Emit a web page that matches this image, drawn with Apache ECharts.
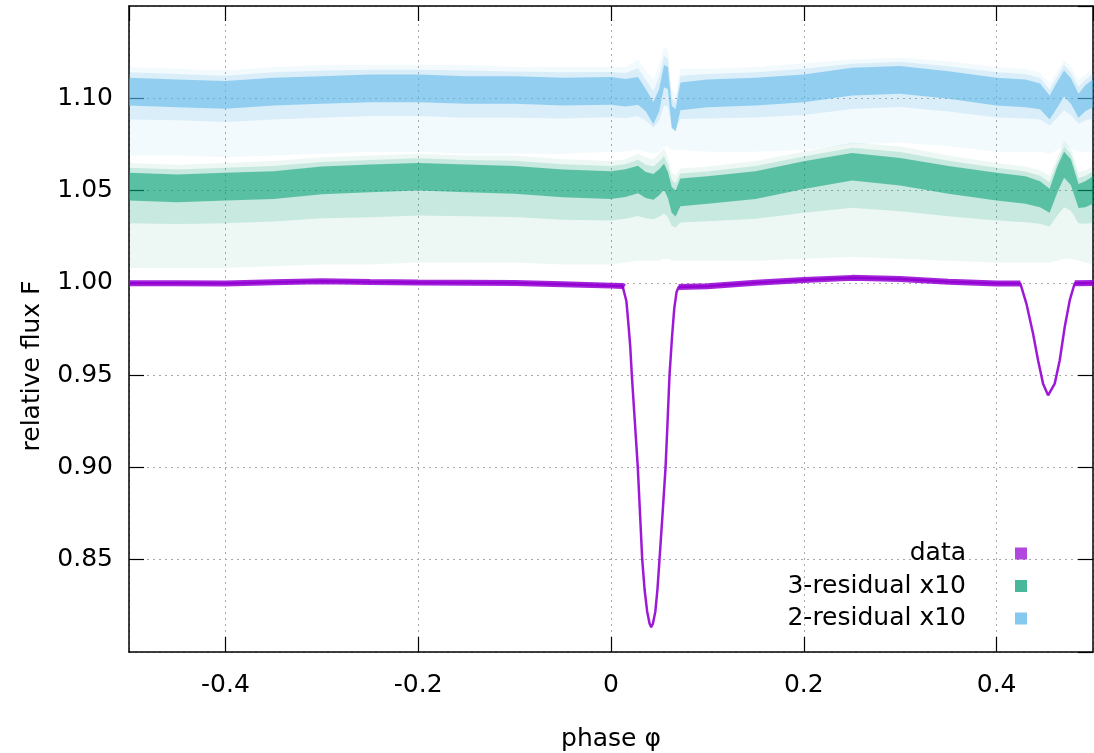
<!DOCTYPE html>
<html>
<head>
<meta charset="utf-8">
<script src="https://cdn.jsdelivr.net/npm/echarts@6.0.0/dist/echarts.min.js"></script>
<style>
  html, body { margin: 0; padding: 0; background: #fff; }
  #main { width: 1094px; height: 753px; }
</style>
</head>
<body>
<div id="main"></div>
<script>
// light curve (data)
const dataPhase = [-0.5, -0.45, -0.4, -0.35, -0.3, -0.25, -0.2, -0.15, -0.1, -0.05, 0, 0.012,
  0.014, 0.016, 0.018, 0.0199, 0.0216, 0.0247, 0.0278, 0.0301, 0.0324, 0.0348, 0.0375, 0.04, 0.0417,
  0.0435, 0.046, 0.0482, 0.0503, 0.0535, 0.0566, 0.0587, 0.0607, 0.0632, 0.0656, 0.068, 0.0702,
  0.1, 0.15, 0.2, 0.25, 0.3, 0.35, 0.4, 0.4247,
  0.4309, 0.4378, 0.443, 0.4482, 0.4534, 0.4603, 0.4655, 0.4707, 0.4759, 0.481, 0.5];
const dataFlux = [0.9998, 0.9998, 0.9997, 1.0003, 1.0009, 1.0004, 1.0002, 1.0001, 0.9999, 0.9992, 0.9985, 0.9983,
  0.9978, 0.990, 0.978, 0.966, 0.950, 0.925, 0.900, 0.875, 0.850, 0.834, 0.822, 0.8155, 0.8134,
  0.8155, 0.822, 0.834, 0.850, 0.875, 0.900, 0.925, 0.950, 0.970, 0.986, 0.995, 0.9978,
  0.9981, 1.0001, 1.0016, 1.0027, 1.0021, 1.0006, 0.9997, 0.9996,
  0.9888, 0.9726, 0.9581, 0.9454, 0.9391, 0.9454, 0.9581, 0.9762, 0.9906, 0.9998, 0.9999];

// residual clouds: phase grid, centre of the dense core, core half width, lowest and highest scattered points
const resPhase = [-0.5, -0.45, -0.4, -0.35, -0.3, -0.25, -0.2, -0.15, -0.1, -0.05, 0, 0.015, 0.028,
  0.036, 0.044, 0.05, 0.055, 0.059, 0.063, 0.067, 0.072, 0.1, 0.15, 0.2, 0.25, 0.3, 0.35, 0.4,
  0.43, 0.445, 0.455, 0.463, 0.47, 0.477, 0.485, 0.492, 0.5];

const res3Mid = [1.0521, 1.0512, 1.0521, 1.0530, 1.0555, 1.0566, 1.0575, 1.0566, 1.0558, 1.0539, 1.0530, 1.0540, 1.0560,
  1.0530, 1.0520, 1.0545, 1.0575, 1.0530, 1.0450, 1.0430, 1.0490, 1.0503, 1.0530, 1.0584, 1.0629, 1.0602, 1.0558, 1.0521,
  1.0503, 1.0480, 1.0445, 1.0560, 1.0640, 1.0600, 1.0470, 1.0480, 1.0503];
const res3Half = [0.0075, 0.0075, 0.0075, 0.0075, 0.0075, 0.0075, 0.0075, 0.0075, 0.0075, 0.0075, 0.0075, 0.0075, 0.0075,
  0.007, 0.007, 0.007, 0.007, 0.007, 0.007, 0.007, 0.0075, 0.0075, 0.0075, 0.0075, 0.0075, 0.0075, 0.0075, 0.0075,
  0.0075, 0.007, 0.0065, 0.007, 0.007, 0.007, 0.0065, 0.007, 0.0075];
const res3Low = [1.008, 1.008, 1.008, 1.009, 1.010, 1.010, 1.011, 1.011, 1.011, 1.010, 1.010, 1.011, 1.012,
  1.012, 1.012, 1.012, 1.013, 1.013, 1.012, 1.012, 1.012, 1.012, 1.012, 1.013, 1.014, 1.013, 1.012, 1.011,
  1.011, 1.011, 1.011, 1.012, 1.013, 1.013, 1.012, 1.011, 1.010];
const res3High = [1.065, 1.064, 1.065, 1.066, 1.068, 1.069, 1.070, 1.069, 1.069, 1.067, 1.066, 1.067, 1.070,
  1.068, 1.067, 1.070, 1.073, 1.068, 1.060, 1.058, 1.062, 1.063, 1.066, 1.071, 1.076, 1.074, 1.069, 1.065,
  1.063, 1.061, 1.058, 1.068, 1.077, 1.073, 1.060, 1.061, 1.063];

const res2Mid = [1.1036, 1.1027, 1.1018, 1.1036, 1.1045, 1.1054, 1.1054, 1.1045, 1.1045, 1.1036, 1.1040, 1.1030, 1.1040,
  1.0990, 1.0920, 1.0990, 1.1120, 1.1110, 1.0900, 1.0880, 1.1010, 1.1027, 1.1036, 1.1054, 1.1090, 1.1100, 1.1072, 1.1036,
  1.1027, 1.1010, 1.0950, 1.1020, 1.1080, 1.1040, 1.0960, 1.1000, 1.1027];
const res2Half = [0.0075, 0.0075, 0.0075, 0.0075, 0.0075, 0.0075, 0.0075, 0.0075, 0.0075, 0.0075, 0.0075, 0.0075, 0.0075,
  0.006, 0.006, 0.006, 0.006, 0.006, 0.006, 0.006, 0.0075, 0.0075, 0.0075, 0.0075, 0.0075, 0.0075, 0.0075, 0.0075,
  0.0075, 0.007, 0.0065, 0.007, 0.007, 0.007, 0.0065, 0.007, 0.0075];
const res2Low = [1.069, 1.069, 1.068, 1.069, 1.070, 1.071, 1.071, 1.070, 1.070, 1.070, 1.071, 1.071, 1.072,
  1.071, 1.070, 1.071, 1.074, 1.074, 1.072, 1.072, 1.072, 1.071, 1.071, 1.072, 1.075, 1.076, 1.074, 1.071,
  1.071, 1.071, 1.070, 1.072, 1.074, 1.073, 1.071, 1.071, 1.071];
const res2High = [1.117, 1.116, 1.115, 1.117, 1.118, 1.118, 1.118, 1.118, 1.117, 1.117, 1.117, 1.117, 1.121,
  1.115, 1.110, 1.118, 1.128, 1.126, 1.105, 1.102, 1.116, 1.116, 1.117, 1.119, 1.121, 1.122, 1.120, 1.117,
  1.116, 1.114, 1.108, 1.115, 1.121, 1.117, 1.110, 1.113, 1.116];

const seriesNames = ['data', '3-residual x10', '2-residual x10'];
const yTicks = [0.85, 0.90, 0.95, 1.00, 1.05, 1.10];

const FONT = 'DejaVu Sans';
const FS = 25;
const PURPLE = '148,0,211', GREEN = '0,158,115', BLUE = '86,180,233';

// one filled polygon between a lower and an upper edge, drawn with the axis scales
function band(name, phases, lo, hi, rgb, alpha, z) {
  return {
    type: 'custom', name: name, z: z, silent: true, clip: true,
    itemStyle: { color: 'rgba(' + rgb + ',0.75)' },
    data: [[phases[0], lo[0]]],
    renderItem: function (params, api) {
      let pts = [];
      for (let i = 0; i < phases.length; i++) pts.push(api.coord([phases[i], hi[i]]));
      for (let i = phases.length - 1; i >= 0; i--) pts.push(api.coord([phases[i], lo[i]]));
      return { type: 'polygon', shape: { points: pts }, style: { fill: 'rgba(' + rgb + ',' + alpha + ')' } };
    }
  };
}

function cloud(name, mid, half, low, high, rgb, z) {
  const coreLo = mid.map((m, i) => m - half[i]);
  const coreHi = mid.map((m, i) => m + half[i]);
  const innerLo = coreLo.map((c, i) => (c + low[i]) / 2 + 0.006);
  const innerHi = coreHi.map((c, i) => (c + high[i]) / 2);
  return [
    band(name, resPhase, low, high, rgb, 0.07, z),
    band(name, resPhase, innerLo, innerHi, rgb, 0.16, z + 1),
    band(name, resPhase, coreLo, coreHi, rgb, 0.55, z + 2)
  ];
}

const dataLine = dataPhase.map((p, i) => [p, dataFlux[i]]);
// out-of-eclipse parts are a thicker scatter band
const dataFlat = dataPhase.map((p, i) => [p, dataFlux[i] > 0.997 ? dataFlux[i] : null]);

let myChart = echarts.init(document.getElementById('main'));

const axisCommon = {
  axisLine: { show: true, onZero: false, lineStyle: { color: '#000', width: 1.5 } },
  axisTick: { show: true, inside: true, length: 15, lineStyle: { color: '#000', width: 1.2 } }
};

myChart.setOption({
  animation: false,
  backgroundColor: '#fff',
  textStyle: { fontFamily: FONT },
  grid: { left: 129, right: 1, top: 6, bottom: 101, containLabel: false, outerBoundsMode: 'none' },
  legend: {
    orient: 'vertical', align: 'right', right: 67, top: 541, padding: 0,
    itemWidth: 12, itemHeight: 12, itemGap: 7.5, icon: 'rect',
    selectedMode: false,
    textStyle: { fontFamily: FONT, fontSize: FS, color: '#000', padding: [0, 44, 0, 0] },
    data: [
      { name: seriesNames[0], itemStyle: { color: 'rgba(' + PURPLE + ',0.72)' } },
      { name: seriesNames[1], itemStyle: { color: 'rgba(' + GREEN + ',0.72)' } },
      { name: seriesNames[2], itemStyle: { color: 'rgba(' + BLUE + ',0.72)' } }
    ]
  },
  xAxis: [
    Object.assign({
      type: 'value', min: -0.5, max: 0.5, splitNumber: 5, position: 'bottom',
      name: 'phase φ', nameLocation: 'middle', nameGap: 75,
      nameTextStyle: { fontFamily: FONT, fontSize: FS, color: '#000' },
      axisLabel: { margin: 21, fontSize: FS, color: '#000', showMinLabel: false, showMaxLabel: false },
      splitLine: { show: true, lineStyle: { color: '#a8a8a8', type: [2, 4], width: 1 } }
    }, axisCommon),
    Object.assign({
      type: 'value', min: -0.5, max: 0.5, splitNumber: 5, position: 'top',
      axisLabel: { show: false }, splitLine: { show: false }
    }, axisCommon)
  ],
  yAxis: [
    Object.assign({
      type: 'value', min: 0.8, max: 1.15, interval: 0.05, position: 'left',
      axisLabel: {
        margin: 16, fontSize: FS, color: '#000', showMinLabel: false, showMaxLabel: false,
        formatter: v => yTicks.some(t => Math.abs(t - v) < 1e-6) ? v.toFixed(2) : ''
      },
      splitLine: { show: true, lineStyle: { color: '#a8a8a8', type: [2, 4], width: 1 } }
    }, axisCommon),
    Object.assign({
      type: 'value', min: 0.8, max: 1.15, interval: 0.05, position: 'right',
      axisLabel: { show: false }, splitLine: { show: false }
    }, axisCommon)
  ],
  graphic: [{
    type: 'text', x: 32, y: 366, rotation: Math.PI / 2,
    style: { text: 'relative flux F', fontFamily: FONT, fontSize: FS, fill: '#000', align: 'center', verticalAlign: 'middle' }
  }],
  series: [
    {
      name: seriesNames[0], type: 'line', data: dataFlat, z: 6, silent: true,
      showSymbol: false, connectNulls: false, smooth: false,
      itemStyle: { color: 'rgba(' + PURPLE + ',0.75)' },
      lineStyle: { color: 'rgba(' + PURPLE + ',0.85)', width: 6 }
    },
    {
      name: seriesNames[0], type: 'line', data: dataLine, z: 7, silent: true,
      showSymbol: false, smooth: false,
      itemStyle: { color: 'rgba(' + PURPLE + ',0.75)' },
      lineStyle: { color: 'rgba(' + PURPLE + ',0.9)', width: 2.5 }
    }
  ]
    .concat(cloud(seriesNames[1], res3Mid, res3Half, res3Low, res3High, GREEN, 2))
    .concat(cloud(seriesNames[2], res2Mid, res2Half, res2Low, res2High, BLUE, 2))
});
</script>
</body>
</html>
